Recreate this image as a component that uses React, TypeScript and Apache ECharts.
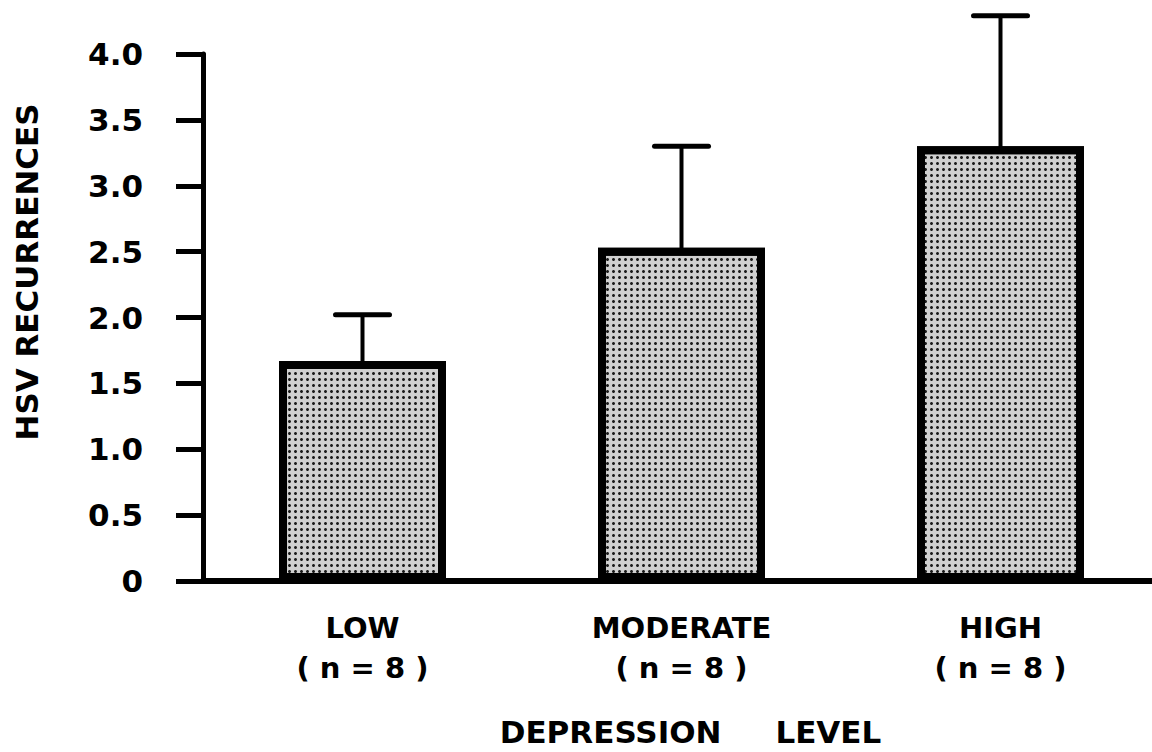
import React, { useEffect, useRef } from "react";
import * as echarts from "echarts";

const categories = ["LOW\n( n = 8 )", "MODERATE\n( n = 8 )", "HIGH\n( n = 8 )"];
const means = [1.67, 2.53, 3.3];
const upperErrors = [2.02, 3.3, 4.29];
const yTicks = [0, 0.5, 1.0, 1.5, 2.0, 2.5, 3.0, 3.5, 4.0];
const yAxisTitle = "HSV RECURRENCES";
const xAxisTitle = "DEPRESSION     LEVEL";

const FONT = "DejaVu Sans";

export default function App() {
  const ref = useRef<HTMLDivElement>(null);
  useEffect(() => {
    if (!ref.current) return;
    const chart = echarts.init(ref.current, null, { renderer: "svg" });
    const errData = means.map((m, i) => [i, m, upperErrors[i]]);
    chart.setOption({
      animation: false,
      backgroundColor: "#ffffff",
      aria: { enabled: true, decal: { show: true } },
      grid: { left: 203, top: 54, width: 957, bottom: 168, containLabel: false },
      xAxis: {
        type: "category",
        data: categories,
        name: xAxisTitle,
        nameLocation: "middle",
        nameGap: 135,
        nameTextStyle: {
          fontFamily: FONT,
          fontWeight: "bold",
          fontSize: 31,
          color: "#000",
          padding: [0, 0, 0, 18],
        },
        axisLine: { lineStyle: { color: "#000", width: 6 } },
        axisTick: { show: false },
        axisLabel: {
          margin: 27,
          fontFamily: FONT,
          fontWeight: "bold",
          fontSize: 29,
          lineHeight: 40,
          color: "#000",
        },
      },
      yAxis: {
        type: "value",
        min: 0,
        max: 4,
        interval: 0.5,
        splitLine: { show: false },
        axisLine: { show: true, lineStyle: { color: "#000", width: 5 } },
        axisTick: { show: true, length: 27, lineStyle: { color: "#000", width: 5 } },
        axisLabel: {
          margin: 60,
          fontFamily: FONT,
          fontWeight: "bold",
          fontSize: 31,
          color: "#000",
          formatter: (v: number) => (yTicks.includes(v) ? (v === 0 ? "0" : v.toFixed(1)) : ""),
        },
      },
      series: [
        {
          type: "bar",
          data: means,
          barWidth: 167,
          itemStyle: {
            color: "#d0d0d0",
            borderColor: "#000",
            borderWidth: 8,
            decal: {
              symbol: "circle",
              symbolSize: 1,
              dashArrayX: [2.4, 2.6],
              dashArrayY: [2.4, 2.6],
              color: "#1a1a1a",
              backgroundColor: "#f4f4f4",
              rotation: 0,
            },
          },
          emphasis: { disabled: true },
          z: 2,
        },
        {
          type: "custom",
          data: errData,
          z: 3,
          renderItem: (params: any, api: any) => {
            const i = api.value(0);
            const lo = api.coord([i, api.value(1)]);
            const hi = api.coord([i, api.value(2)]);
            const half = 27;
            return {
              type: "group",
              children: [
                {
                  type: "line",
                  shape: { x1: hi[0], y1: lo[1] + 2, x2: hi[0], y2: hi[1] },
                  style: { stroke: "#000", lineWidth: 4 },
                },
                {
                  type: "line",
                  shape: { x1: hi[0] - half, y1: hi[1], x2: hi[0] + half, y2: hi[1] },
                  style: { stroke: "#000", lineWidth: 5, lineCap: "round" },
                },
              ],
            };
          },
        },
      ],
      graphic: [
        {
          type: "text",
          x: 27,
          y: 272,
          rotation: Math.PI / 2,
          style: {
            text: yAxisTitle,
            fontFamily: FONT,
            fontWeight: "bold",
            fontSize: 31,
            fill: "#000",
            textAlign: "center",
            textVerticalAlign: "middle",
          },
        },
      ],
    });
    return () => chart.dispose();
  }, []);
  return (
    <div
      style={{
        position: "fixed",
        left: 0,
        top: 0,
        width: 1152,
        height: 752,
        overflow: "hidden",
        background: "#fff",
      }}
    >
      <div ref={ref} style={{ width: 1172, height: 752 }} />
    </div>
  );
}
